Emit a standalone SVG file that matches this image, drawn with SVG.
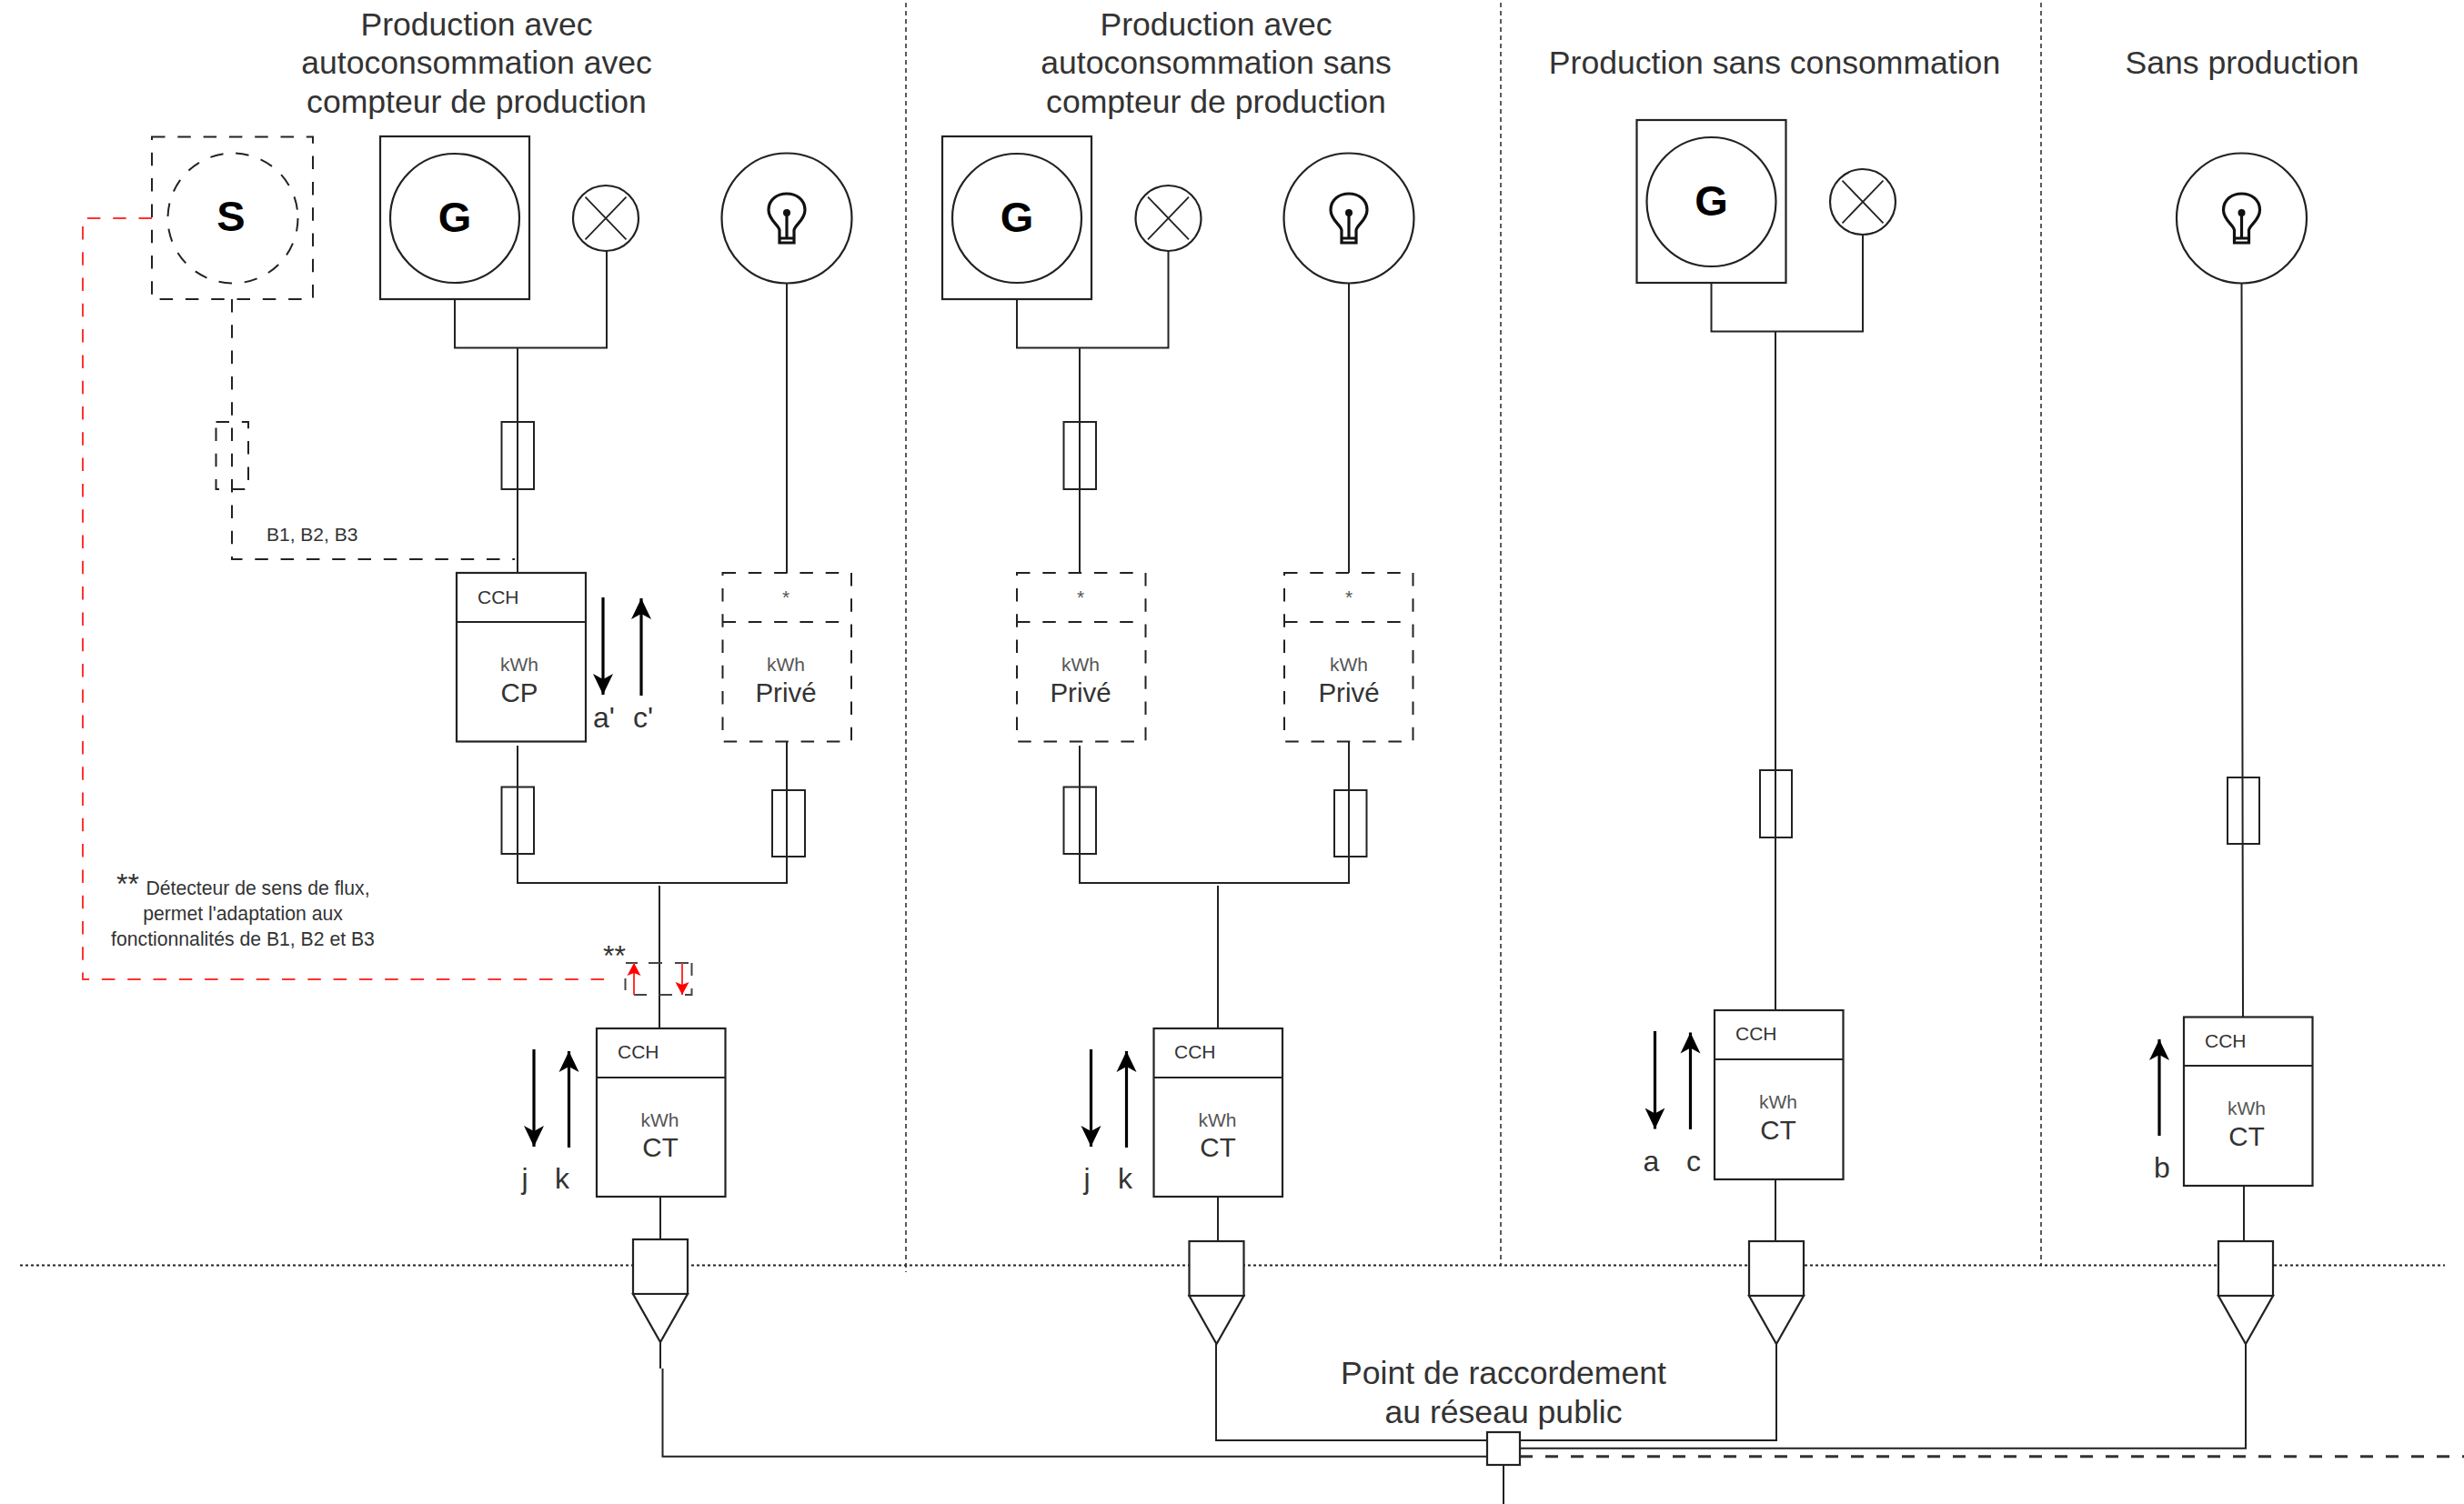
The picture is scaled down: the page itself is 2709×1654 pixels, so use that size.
<svg xmlns="http://www.w3.org/2000/svg" width="2709" height="1654" viewBox="0 0 2709 1654">
<style>
text{font-family:"Liberation Sans",Arial,sans-serif;fill:#333}
.t{font-size:35.6px;text-anchor:middle}
.s{font-size:21px}
.m{font-size:21px;text-anchor:middle;fill:#555}
.n{font-size:29.5px;text-anchor:middle}
.l{font-size:32px;text-anchor:middle}
.g{font-size:47px;font-weight:bold;text-anchor:middle;fill:#000}
.note{font-size:21.2px;text-anchor:middle}
.w{fill:#fff;stroke:#222;stroke-width:2.2}
.o{fill:none;stroke:#222;stroke-width:2}
.d{fill:none;stroke:#222;stroke-width:2;stroke-dasharray:14.5 13.8}
.dw{fill:#fff;stroke:#222;stroke-width:2;stroke-dasharray:14.5 13.8}
.c{fill:none;stroke:#222;stroke-width:2}
.dot{fill:none;stroke:#222;stroke-width:2;stroke-dasharray:3 3}
.sec{fill:none;stroke:#333;stroke-width:1.6;stroke-dasharray:5 4}
.red{fill:none;stroke:#f33;stroke-width:2;stroke-dasharray:14.5 13.8}
.ad{fill:none;stroke:#000;stroke-width:3.2;marker-end:url(#ah)}
.ar{fill:none;stroke:#f33;stroke-width:2;marker-end:url(#rh)}
</style>
<defs>
<marker id="ah" markerUnits="userSpaceOnUse" markerWidth="24" markerHeight="24" refX="23" refY="12" orient="auto"><path d="M0,1 L23,12 L0,23 L6,12 Z" fill="#000"/></marker>
<marker id="rh" markerUnits="userSpaceOnUse" markerWidth="15" markerHeight="16" refX="14" refY="8" orient="auto"><path d="M0,0.5 L14,8 L0,15.5 L3,8 Z" fill="#f00"/></marker>
<g id="lamp"><circle r="36" class="w"/><path d="M-25,-26 L25,26 M25,-26 L-25,26" class="o" transform="scale(.9)"/></g>
<g id="bulb"><circle r="71.5" class="w"/><path d="M-8,13 C-9,7 -20,2 -20,-9 C-20,-21 -10,-27 0,-27 C10,-27 20,-21 20,-9 C20,2 9,7 8,13 V27 H-8 Z M-8,22 H8 M0,-6 V22" fill="none" stroke="#111" stroke-width="3.2"/><circle cy="-6" r="4" fill="#111"/></g>
<g id="gen"><rect x="-82" y="-90" width="164" height="179" class="w"/><circle r="71" class="w"/><text y="15" class="g">G</text></g>
<g id="brk"><rect x="-30" y="0" width="60" height="60" class="w"/><path d="M-30,60 L30,60 L0,113 Z" class="w"/></g>
</defs>

<g id="separators">
<path d="M996,3 V1399" class="sec"/>
<path d="M1650,3 V1391" class="sec"/>
<path d="M2244,3 V1391" class="sec"/>
<path d="M22,1391.5 H2688" class="dot"/>
</g>

<g id="connectors">
<path d="M500,311 V382.5 H667 V276" class="c"/>
<path d="M569,382.5 V630" class="c"/>
<path d="M865,311 V630" class="c"/>
<path d="M569,820 V971 M865,815.5 V971 M568,971 H866" class="c"/>
<path d="M725,974 V1132" class="c"/>
<path d="M726,1316 V1363 M726,1476 V1505 M728.5,1505 V1601.7 H1635" class="c"/>
<path d="M255,329 V615 H566" class="d"/>
<path d="M167,240 H91 V1077 H677" class="red"/>
<path d="M1118,311 V382.5 H1284.5 V276" class="c"/>
<path d="M1187,382.5 V630" class="c"/>
<path d="M1483,311 V630" class="c"/>
<path d="M1187,820 V971 M1483,815.5 V971 M1186,971 H1484" class="c"/>
<path d="M1339,974 V1132" class="c"/>
<path d="M1339,1316 V1364 M1337,1478 V1584 H1953 V1478" class="c"/>
<path d="M1881.5,293 V364.5 H2048 V258" class="c"/>
<path d="M1952,364.5 V1111 M1952,1297 V1364" class="c"/>
<path d="M2464.5,311 L2466,1119 M2467,1304 V1364 M2469,1478 V1592.7 H1671" class="c"/>
<path d="M1671,1601.7 H2709" fill="none" stroke="#333" stroke-width="3" stroke-dasharray="14 14"/>
<path d="M1653,1611 V1654" class="c"/>
</g>

<g id="titles">
<text class="t" x="524" y="39">Production avec</text>
<text class="t" x="524" y="81">autoconsommation avec</text>
<text class="t" x="524" y="124">compteur de production</text>
<text class="t" x="1337" y="39">Production avec</text>
<text class="t" x="1337" y="81">autoconsommation sans</text>
<text class="t" x="1337" y="124">compteur de production</text>
<text class="t" x="1951" y="81">Production sans consommation</text>
<text class="t" x="2465" y="81">Sans production</text>
</g>

<g id="node-s">
<rect x="167" y="150.5" width="177" height="178.5" class="d"/>
<circle cx="256" cy="240" r="71.5" class="d"/>
<text x="254" y="254" class="g">S</text>
</g>
<g id="node-s-fuse"><rect x="237.5" y="464" width="35.5" height="74" class="d"/><text x="293" y="595" class="s">B1, B2, B3</text></g>

<g id="node-g1"><use href="#gen" x="500" y="240"/></g>
<g id="node-lamp1"><use href="#lamp" x="666" y="240"/></g>
<g id="node-bulb1"><use href="#bulb" x="865" y="240"/></g>
<g id="node-g2"><use href="#gen" x="1118" y="240"/></g>
<g id="node-lamp2"><use href="#lamp" x="1284.5" y="240"/></g>
<g id="node-bulb2"><use href="#bulb" x="1483" y="240"/></g>
<g id="node-g3"><use href="#gen" x="1881.5" y="222"/></g>
<g id="node-lamp3"><use href="#lamp" x="2048" y="222"/></g>
<g id="node-bulb4"><use href="#bulb" x="2464.5" y="240"/></g>

<g id="fuses">
<rect x="551.5" y="464" width="35.5" height="74" class="o"/>
<rect x="551.5" y="865.5" width="35.5" height="73.5" class="o"/>
<rect x="849" y="869" width="36" height="73" class="o"/>
<rect x="1169.5" y="464" width="35.5" height="74" class="o"/>
<rect x="1169.5" y="865.5" width="35.5" height="73.5" class="o"/>
<rect x="1467" y="869" width="35.5" height="73" class="o"/>
<rect x="1935" y="847" width="35" height="74" class="o"/>
<rect x="2449" y="855" width="35" height="73" class="o"/>
</g>

<g id="meter-cp">
<rect x="502" y="630" width="142" height="185.5" class="w"/><path d="M502,684 H644" class="o"/>
<text x="525" y="664" class="s">CCH</text><text x="571" y="738" class="m">kWh</text><text x="571" y="772" class="n">CP</text>
</g>
<g id="meter-prive1">
<rect x="794.5" y="630" width="141.5" height="185.5" class="dw"/><path d="M794.5,684 H936" class="d"/>
<text x="864" y="664" class="m">*</text><text x="864" y="738" class="m">kWh</text><text x="864" y="772" class="n">Privé</text>
</g>
<g id="meter-prive2">
<rect x="1118" y="630" width="141.5" height="185.5" class="dw"/><path d="M1118,684 H1259.5" class="d"/>
<text x="1188" y="664" class="m">*</text><text x="1188" y="738" class="m">kWh</text><text x="1188" y="772" class="n">Privé</text>
</g>
<g id="meter-prive3">
<rect x="1412" y="630" width="141.5" height="185.5" class="dw"/><path d="M1412,684 H1553.5" class="d"/>
<text x="1483" y="664" class="m">*</text><text x="1483" y="738" class="m">kWh</text><text x="1483" y="772" class="n">Privé</text>
</g>
<g id="meter-ct1">
<rect x="656" y="1131" width="141.5" height="185" class="w"/><path d="M656,1185 H797.5" class="o"/>
<text x="679" y="1164" class="s">CCH</text><text x="725.5" y="1239" class="m">kWh</text><text x="726" y="1272" class="n">CT</text>
</g>
<g id="meter-ct2">
<rect x="1268.5" y="1131" width="141.5" height="185" class="w"/><path d="M1268.5,1185 H1410" class="o"/>
<text x="1291" y="1164" class="s">CCH</text><text x="1338.5" y="1239" class="m">kWh</text><text x="1339" y="1272" class="n">CT</text>
</g>
<g id="meter-ct3">
<rect x="1885" y="1111" width="141.5" height="186" class="w"/><path d="M1885,1165 H2026.5" class="o"/>
<text x="1908" y="1144" class="s">CCH</text><text x="1955" y="1219" class="m">kWh</text><text x="1955" y="1253" class="n">CT</text>
</g>
<g id="meter-ct4">
<rect x="2401" y="1118.5" width="141.5" height="185.5" class="w"/><path d="M2401,1172 H2542.5" class="o"/>
<text x="2424" y="1152" class="s">CCH</text><text x="2470" y="1226" class="m">kWh</text><text x="2470" y="1260" class="n">CT</text>
</g>

<g id="flow-arrows">
<path d="M663,657 V764" class="ad"/><path d="M705,765 V658" class="ad"/>
<path d="M587,1154 V1261" class="ad"/><path d="M625.5,1262 V1156" class="ad"/>
<path d="M1199.5,1154 V1261" class="ad"/><path d="M1238.5,1262 V1156" class="ad"/>
<path d="M1819.5,1134 V1241.5" class="ad"/><path d="M1858.5,1242 V1135.5" class="ad"/>
<path d="M2374,1249 V1143" class="ad"/>
<text x="664" y="800" class="l">a'</text><text x="707" y="800" class="l">c'</text>
<text x="577" y="1307" class="l">j</text><text x="618" y="1307" class="l">k</text>
<text x="1195" y="1307" class="l">j</text><text x="1237" y="1307" class="l">k</text>
<text x="1815.5" y="1288" class="l">a</text><text x="1862" y="1288" class="l">c</text>
<text x="2377" y="1295" class="l">b</text>
</g>

<g id="detector">
<path d="M688,1059 H701 M713,1059 H728 M742,1059 H757 M760.5,1059 V1073 M760.5,1087 V1094 H753 M739,1094 H725 M711,1094 H697 M687.5,1089 V1076" fill="none" stroke="#444" stroke-width="2"/>
<path d="M697,1094 V1059" class="ar"/><path d="M750,1059 V1094" class="ar"/>
<text x="663" y="1062" font-size="32">**</text>
</g>
<g id="note">
<text x="128" y="983" font-size="32">**</text>
<text x="283.5" y="984" class="note">Détecteur de sens de flux,</text>
<text x="267" y="1012" class="note">permet l'adaptation aux</text>
<text x="267" y="1040" class="note">fonctionnalités de B1, B2 et B3</text>
</g>

<g id="breaker1"><use href="#brk" x="726" y="1363"/></g>
<g id="breaker2"><use href="#brk" x="1337.5" y="1365"/></g>
<g id="breaker3"><use href="#brk" x="1953" y="1365"/></g>
<g id="breaker4"><use href="#brk" x="2469" y="1365"/></g>

<g id="connection-point">
<rect x="1635" y="1575" width="36" height="36" class="w"/>
<text class="t" x="1653" y="1522">Point de raccordement</text>
<text class="t" x="1653" y="1565">au réseau public</text>
</g>
</svg>
